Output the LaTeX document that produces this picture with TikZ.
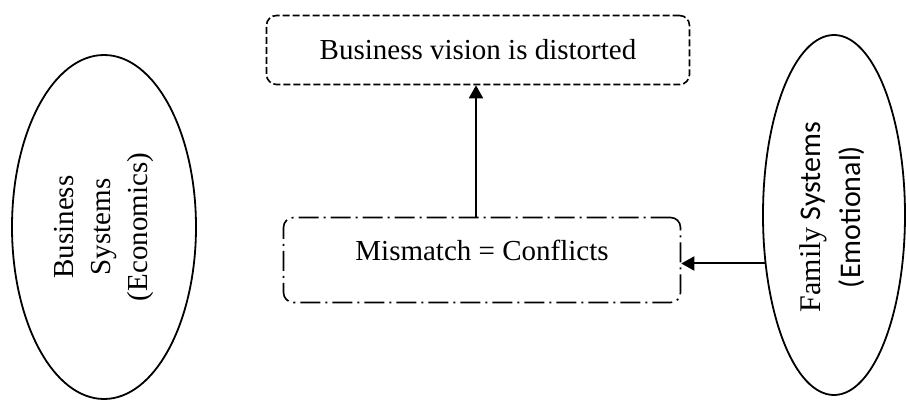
\documentclass[tikz,border=0pt]{standalone}
\usepackage{fontspec}
\setmainfont{Liberation Serif}
\newfontfamily\calibri{Carlito}
\usetikzlibrary{arrows.meta,shapes.geometric}

\begin{document}
\begin{tikzpicture}[x=0.5pt, y=-0.5pt, line width=0.8pt,
  every node/.style={font=\fontsize{14.5}{18.5}\selectfont},
  sysellipse/.style={draw,ellipse,inner sep=0pt,line width=0.9pt},
  arr/.style={line width=1pt,-{Triangle[length=6.5pt,width=7pt]}}]
\useasboundingbox (0,0) rectangle (906,401);
% the two systems
\node[sysellipse,minimum width=92pt,minimum height=172pt] (bussys) at (104,227) {};
\node[rotate=90,align=center] (bussystext) at (bussys.center) {Business\\Systems\\(Economics)};
\node[sysellipse,minimum width=71pt,minimum height=180pt] (famsys) at (834,215) {};
\node[rotate=90,align=center,font=\calibri\fontsize{15}{20}\selectfont] (famsystext) at (832,217) {{\rmfamily Family} Systems\\(Emotional)};
% boxes
\node[draw,dash pattern=on 3.5pt off 1.5pt,rounded corners=5pt,minimum width=211.5pt,minimum height=34.5pt] (vision) at (478,50) {Business vision is distorted};
\node[draw,dash pattern=on 10pt off 2.5pt on 1pt off 2.5pt,rounded corners=5pt,minimum width=198.5pt,minimum height=42.5pt] (mismatch) at (482,260) {};
\node (mismatchtext) at (482,250) {Mismatch = Conflicts};
% arrows
\draw[arr] ([xshift=-3pt]mismatch.north) -- ([xshift=-3pt]mismatch.north |- vision.south);
\draw[arr] (famsys.215) -- (famsys.215 -| mismatch.east);
\end{tikzpicture}
\end{document}
